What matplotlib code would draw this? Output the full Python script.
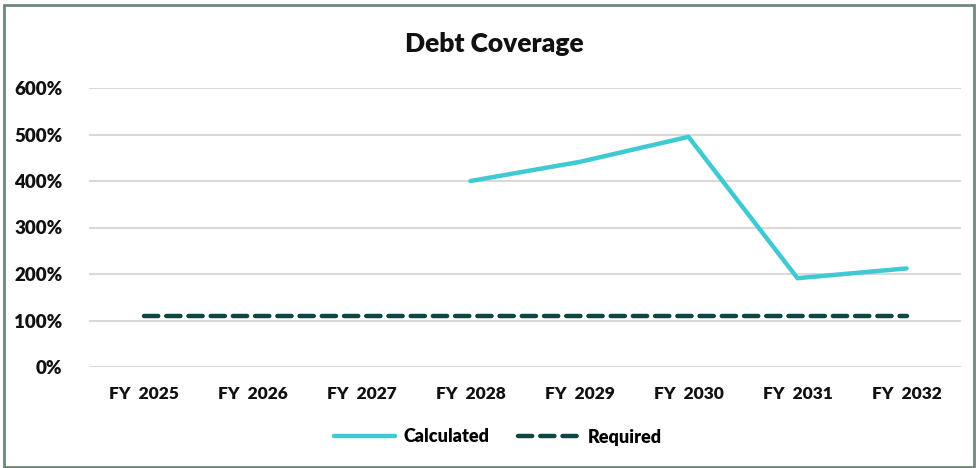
import numpy as np
import matplotlib.pyplot as plt
from matplotlib.patches import Rectangle

# data
years = ["FY  2025", "FY  2026", "FY  2027", "FY  2028", "FY  2029", "FY  2030", "FY  2031", "FY  2032"]
calculated = [np.nan, np.nan, np.nan, 4.00, 4.41, 4.95, 1.91, 2.12]
required = [1.10, 1.10, 1.10, 1.10, 1.10, 1.10, 1.10, 1.10]

plt.rcParams['font.family'] = ['Lato', 'DejaVu Sans']

fig = plt.figure(figsize=(9.76, 4.68), dpi=100)
ax = fig.add_axes([89 / 976, 1 - 367 / 468, (961 - 89) / 976, (367 - 88) / 468])

x = np.arange(len(years))
ax.plot(x, calculated, color='#3FC9D2', linewidth=3.2, label='Calculated',
        solid_capstyle='round')
ax.plot(x, required, color='#0E4545', linewidth=3.2, linestyle=(0, (3.2, 1.8)),
        label='Required', dash_capstyle='round')

ax.set_xlim(-0.5, len(years) - 0.5)
ax.set_ylim(0, 6)
ax.set_yticks(np.arange(0, 7, 1))
ax.set_yticklabels([f"{int(v * 100)}%" for v in np.arange(0, 7, 1)])
ax.set_xticks(x)
ax.set_xticklabels(years)
ax.tick_params(length=0, labelsize=12.5, colors='#111111', pad=14)
ax.tick_params(axis='y', pad=19, labelsize=13.5)
for lab in ax.get_xticklabels() + ax.get_yticklabels():
    lab.set_fontweight('heavy')
ax.grid(axis='y', color='#D9D9D9', linewidth=1.5)
ax.set_axisbelow(True)
for s in ax.spines.values():
    s.set_visible(False)

fig.text(0.506, 0.905, "Debt Coverage", ha='center', va='center',
         fontsize=19, fontweight='heavy', color='#111111')

leg = fig.legend(loc='center', bbox_to_anchor=(0.51, 1 - 437 / 468), ncol=2,
                 frameon=False, handlelength=3.4, handletextpad=0.45,
                 columnspacing=1.6, prop={'weight': 'heavy', 'size': 13})

# outer frame
fig.patches.append(Rectangle((0.004, 0.002), 0.994, 0.987, transform=fig.transFigure,
                             fill=False, edgecolor='#6F8878', linewidth=2))

fig.savefig('out.png', dpi=100)
